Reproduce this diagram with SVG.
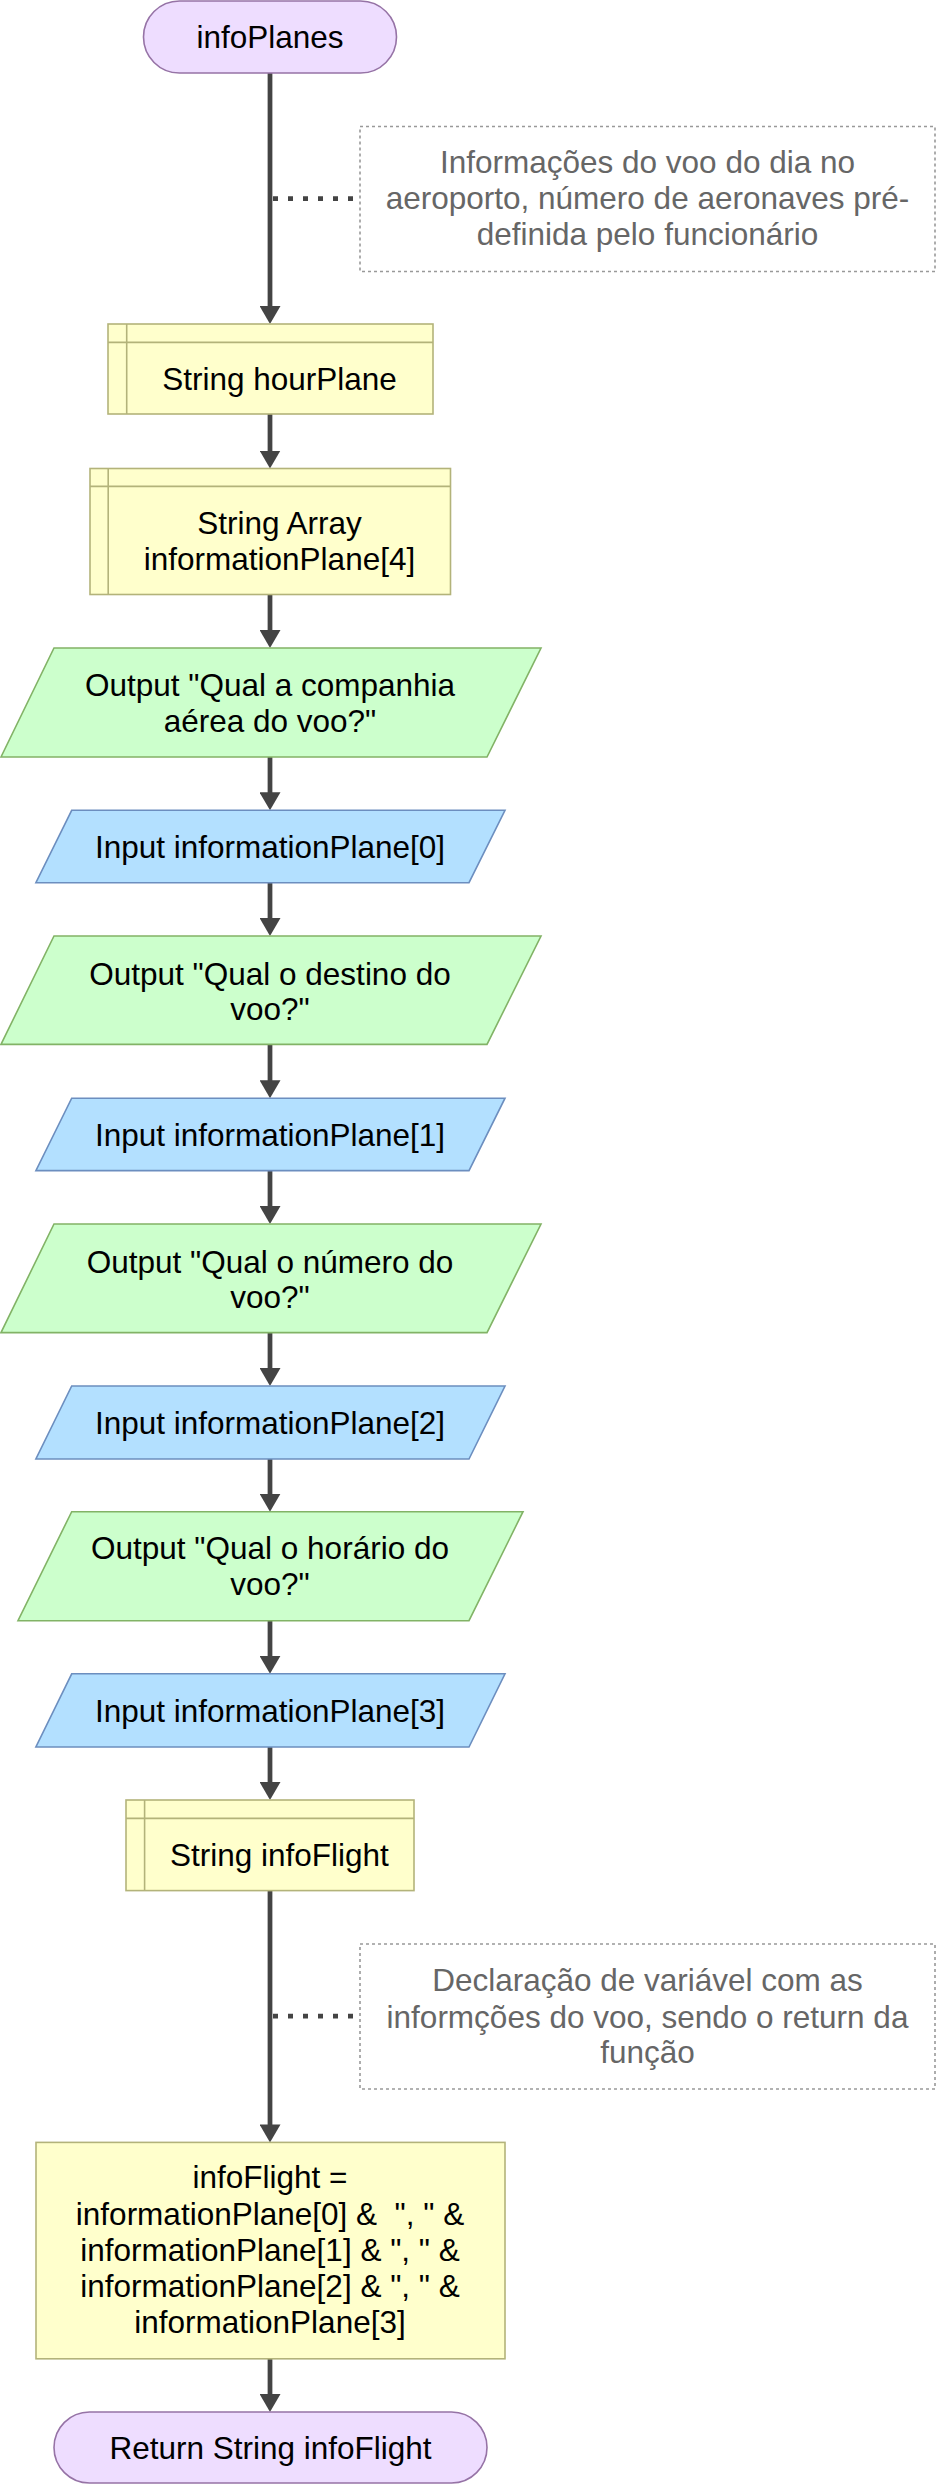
<svg xmlns="http://www.w3.org/2000/svg" width="937" height="2485" viewBox="0 0 937 2485">
<style>
  text { font-family: "Liberation Sans", Arial, Helvetica, sans-serif; font-size: 31.5px; fill: #000000; text-anchor: middle; white-space: pre; }
  .note text { fill: #666666; }
  .term { fill: #EEDDFF; stroke: #9673A6; stroke-width: 1.6; }
  .store { fill: #FFFFCC; stroke: #B3B37A; stroke-width: 1.6; }
  .out { fill: #CCFFCC; stroke: #82B366; stroke-width: 1.6; }
  .in { fill: #B3E0FF; stroke: #6C8EBF; stroke-width: 1.6; }
  .proc { fill: #FFFFCC; stroke: #B3B37A; stroke-width: 1.6; }
  .notebox { fill: #FFFFFF; stroke: #999999; stroke-width: 1.6; stroke-dasharray: 3 3; }
  .flow { stroke: #444444; stroke-width: 4.75; fill: none; marker-end: url(#arrow); }
  .dot { stroke: #444444; stroke-width: 4.75; fill: none; stroke-dasharray: 5 10; }
</style>
<defs>
  <marker id="arrow" markerUnits="userSpaceOnUse" markerWidth="20" markerHeight="21" viewBox="0 0 20 21" refX="8" refY="10.5" orient="auto">
    <path d="M0,0 L18,10.5 L0,21 Z" fill="#444444"/>
  </marker>
</defs>

<g id="connectors">
  <line class="flow" x1="270" y1="73" x2="270" y2="314"/>
  <line class="dot" x1="273" y1="198.5" x2="356" y2="198.5"/>
  <line class="flow" x1="270" y1="414" x2="270" y2="458.5"/>
  <line class="flow" x1="270" y1="594.5" x2="270" y2="638"/>
  <line class="flow" x1="270" y1="757" x2="270" y2="800.3"/>
  <line class="flow" x1="270" y1="882.7" x2="270" y2="926"/>
  <line class="flow" x1="270" y1="1044.4" x2="270" y2="1088.2"/>
  <line class="flow" x1="270" y1="1170.6" x2="270" y2="1214"/>
  <line class="flow" x1="270" y1="1332.6" x2="270" y2="1376"/>
  <line class="flow" x1="270" y1="1459" x2="270" y2="1501.7"/>
  <line class="flow" x1="270" y1="1620.7" x2="270" y2="1663.8"/>
  <line class="flow" x1="270" y1="1747" x2="270" y2="1790"/>
  <line class="flow" x1="270" y1="1890.6" x2="270" y2="2132.4"/>
  <line class="dot" x1="273" y1="2016" x2="356" y2="2016"/>
  <line class="flow" x1="270" y1="2358.8" x2="270" y2="2402"/>
</g>

<g id="start">
  <rect class="term" x="143.5" y="1" width="253" height="72" rx="36" ry="36"/>
  <text x="270" y="48">infoPlanes</text>
</g>

<g id="note1" class="note">
  <rect class="notebox" x="360" y="126.5" width="575" height="145"/>
  <text x="647.5" y="173">Informações do voo do dia no</text>
  <text x="647.5" y="209">aeroporto, número de aeronaves pré-</text>
  <text x="647.5" y="244.5">definida pelo funcionário</text>
</g>

<g id="hourPlane">
  <rect class="store" x="108" y="324" width="325" height="90"/>
  <line class="store" x1="126.7" y1="324" x2="126.7" y2="414"/>
  <line class="store" x1="108" y1="342.4" x2="433" y2="342.4"/>
  <text x="279.5" y="389.5">String hourPlane</text>
</g>

<g id="informationPlane">
  <rect class="store" x="90" y="468.5" width="360.5" height="126"/>
  <line class="store" x1="108.2" y1="468.5" x2="108.2" y2="594.5"/>
  <line class="store" x1="90" y1="486.4" x2="450.5" y2="486.4"/>
  <text x="279.5" y="534">String Array</text>
  <text x="279.5" y="569.5">informationPlane[4]</text>
</g>

<g id="output1">
  <polygon class="out" points="54,648 541,648 487,757 1,757"/>
  <text x="270" y="696">Output "Qual a companhia</text>
  <text x="270" y="731.6">aérea do voo?"</text>
</g>

<g id="input0">
  <polygon class="in" points="71.7,810.3 505,810.3 469,882.7 35.9,882.7"/>
  <text x="270" y="858">Input informationPlane[0]</text>
</g>

<g id="output2">
  <polygon class="out" points="54,936 541,936 487,1044.4 1,1044.4"/>
  <text x="270" y="984.7">Output "Qual o destino do</text>
  <text x="270" y="1020.2">voo?"</text>
</g>

<g id="input1">
  <polygon class="in" points="71.7,1098.2 505,1098.2 469,1170.6 35.9,1170.6"/>
  <text x="270" y="1145.6">Input informationPlane[1]</text>
</g>

<g id="output3">
  <polygon class="out" points="54,1224 541,1224 487,1332.6 1,1332.6"/>
  <text x="270" y="1272.5">Output "Qual o número do</text>
  <text x="270" y="1308">voo?"</text>
</g>

<g id="input2">
  <polygon class="in" points="71.7,1386 505,1386 469,1459 35.9,1459"/>
  <text x="270" y="1433.6">Input informationPlane[2]</text>
</g>

<g id="output4">
  <polygon class="out" points="71.7,1511.7 523,1511.7 469,1620.7 18,1620.7"/>
  <text x="270" y="1559">Output "Qual o horário do</text>
  <text x="270" y="1595">voo?"</text>
</g>

<g id="input3">
  <polygon class="in" points="71.7,1673.8 505,1673.8 469,1747 35.9,1747"/>
  <text x="270" y="1721.7">Input informationPlane[3]</text>
</g>

<g id="infoFlightDecl">
  <rect class="store" x="126" y="1800" width="288" height="90.6"/>
  <line class="store" x1="144.6" y1="1800" x2="144.6" y2="1890.6"/>
  <line class="store" x1="126" y1="1818.4" x2="414" y2="1818.4"/>
  <text x="279.4" y="1866">String infoFlight</text>
</g>

<g id="note2" class="note">
  <rect class="notebox" x="360" y="1944" width="575" height="145"/>
  <text x="647.5" y="1991.4">Declaração de variável com as</text>
  <text x="647.5" y="2027.7">informções do voo, sendo o return da</text>
  <text x="647.5" y="2063.2">função</text>
</g>

<g id="assign">
  <rect class="proc" x="36" y="2142.4" width="469" height="216.4"/>
  <text x="270" y="2187.7">infoFlight =</text>
  <text x="270" y="2224.5">informationPlane[0] &amp;  ", " &amp;</text>
  <text x="270" y="2260.8">informationPlane[1] &amp; ", " &amp;</text>
  <text x="270" y="2297.1">informationPlane[2] &amp; ", " &amp;</text>
  <text x="270" y="2333">informationPlane[3]</text>
</g>

<g id="end">
  <rect class="term" x="54" y="2412" width="433" height="71" rx="35.5" ry="35.5"/>
  <text x="270.5" y="2459">Return String infoFlight</text>
</g>
</svg>
